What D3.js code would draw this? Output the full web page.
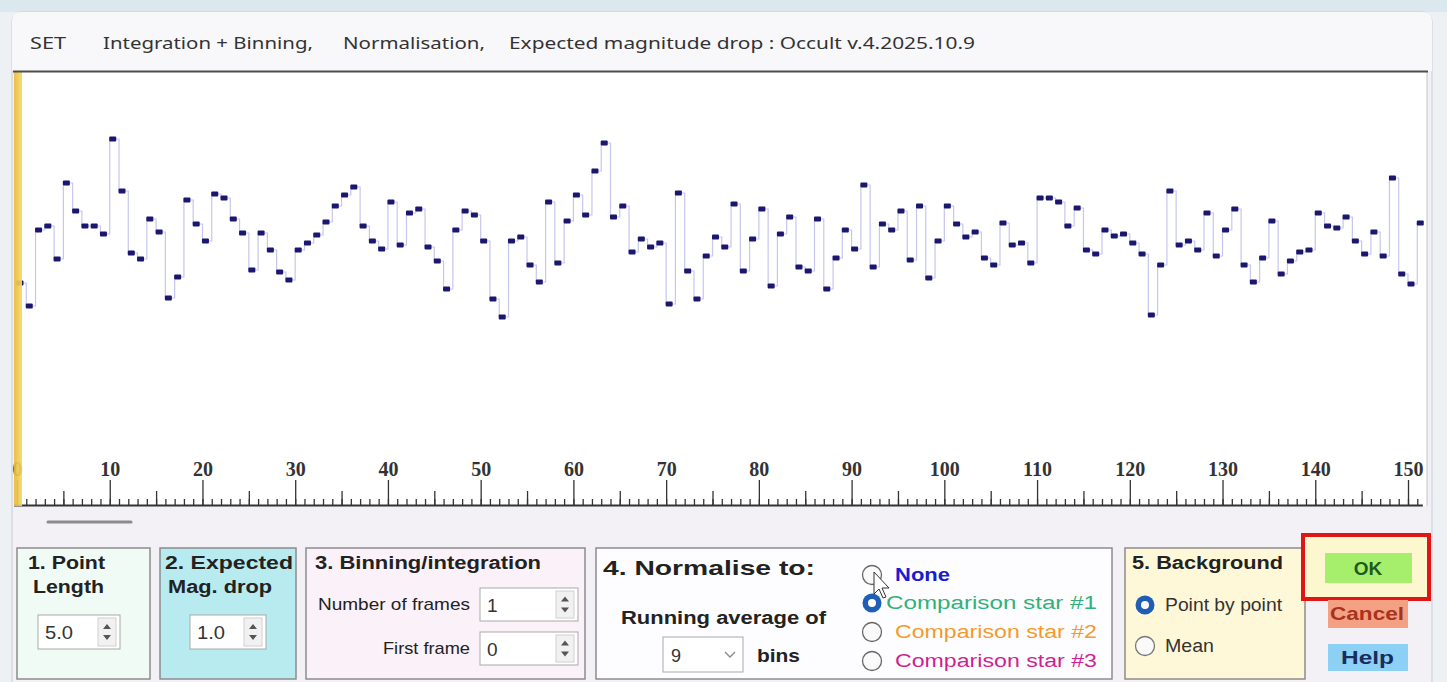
<!DOCTYPE html>
<html>
<head>
<meta charset="utf-8">
<script src="https://cdn.jsdelivr.net/npm/d3@7"></script>
<style>
  body { margin: 0; background: #eef1f4; }
  svg { display: block; font-family: "Noto Sans", "Open Sans", sans-serif; }
</style>
</head>
<body>
<svg width="1447" height="682"></svg>
<script>
// Light curve: one value per frame (relative intensity)
const flux = [
  47, 24, 100, 104, 71, 147, 119, 104, 104, 96,
  191, 139, 77, 71, 111, 98, 32, 53, 130, 106,
  89, 136, 132, 111, 97, 60, 97, 80, 58, 50,
  80, 87, 95, 108, 124, 135, 143, 104, 89, 81,
  128, 85, 117, 121, 83, 69, 41, 100, 119, 115,
  89, 31, 13, 89, 93, 65, 48, 128, 67, 109,
  135, 115, 159, 187, 113, 124, 78, 91, 83, 87,
  26, 137, 59, 31, 74, 93, 83, 126, 59, 91,
  121, 44, 96, 113, 63, 59, 111, 41, 72, 100,
  81, 145, 63, 106, 100, 119, 70, 124, 52, 89,
  124, 106, 93, 98, 72, 65, 107, 85, 87, 67,
  132, 132, 128, 104, 122, 80, 76, 100, 94, 96,
  87, 76, 15, 65, 139, 85, 89, 80, 117, 74,
  100, 121, 65, 48, 72, 109, 56, 69, 78, 80,
  117, 104, 102, 113, 89, 76, 98, 74, 152, 56,
  46, 107
];
const tickLabels = [0, 10, 20, 30, 40, 50, 60, 70, 80, 90, 100, 110, 120, 130, 140, 150];
const midTicks = [5, 15, 25, 35, 45, 55, 65, 75, 85, 95, 105, 115, 125, 135, 145];
const minorTicks = d3.range(0, 152);

const titleParts = ["SET", "Integration + Binning,", "Normalisation,", "Expected magnitude drop : Occult v.4.2025.10.9"];
const normaliseOptions = ["None", "Comparison star #1", "Comparison star #2", "Comparison star #3"];
const normaliseColors = ["#1c1ccf", "#2fb27a", "#f39a2c", "#cf1f93"];
const backgroundOptions = ["Point by point", "Mean"];

const svg = d3.select("svg");

// window frame
svg.append("rect").attr("x", 0).attr("y", 0).attr("width", 1447).attr("height", 12).attr("fill", "#dbe8ee");
svg.append("rect").attr("x", 12).attr("y", 12).attr("width", 1420).attr("height", 690)
  .attr("rx", 9).attr("fill", "#f3f0f6").attr("stroke", "#c9cdd5");
svg.append("path").attr("d", "M12,71 V21 Q12,12 21,12 H1423 Q1432,12 1432,21 V71 Z").attr("fill", "#f8f8fb");

// title (the capture is stretched sideways, so widths are fitted)
const titleX = [30, 103, 343, 509];
const titleW = [36, 210, 142, 466];
svg.selectAll("text.title").data(titleParts).join("text")
  .attr("class", "title")
  .attr("x", (d, i) => titleX[i]).attr("y", 49)
  .attr("font-size", 17).attr("fill", "#333")
  .attr("textLength", (d, i) => titleW[i]).attr("lengthAdjust", "spacingAndGlyphs")
  .text(d => d);

// plot area
const x = d3.scaleLinear().domain([0, 150]).range([17, 1408]);
const y = d3.scaleLinear().domain([0, 257]).range([330, 73]);

svg.append("rect").attr("x", 14).attr("y", 72).attr("width", 1413).attr("height", 434).attr("fill", "#fff");
svg.append("line").attr("x1", 1427).attr("x2", 1427).attr("y1", 72).attr("y2", 506).attr("stroke", "#c4c4c4");

const grad = svg.append("defs").append("linearGradient").attr("id", "yel").attr("x1", 0).attr("x2", 1);
grad.append("stop").attr("offset", 0).attr("stop-color", "#e6bb3a");
grad.append("stop").attr("offset", 1).attr("stop-color", "#f7d86a");

// step connector and point dashes
const pts = flux.map((v, i) => ({ i, v }));
svg.append("path").datum(pts)
  .attr("fill", "none").attr("stroke", "#c6c6ee").attr("stroke-width", 1.2)
  .attr("d", d3.line().x(d => x(d.i)).y(d => y(d.v)).curve(d3.curveStepAfter));

svg.selectAll("rect.pt").data(pts).join("rect")
  .attr("class", "pt")
  .attr("x", d => x(d.i) - 0.5).attr("y", d => y(d.v) - 2.5)
  .attr("width", 7).attr("height", 5).attr("rx", 1)
  .attr("fill", "#1b176e");

// axis: ticks upward from the baseline
const axisY = 505;
const axisG = svg.append("g").attr("transform", `translate(0,${axisY})`);
axisG.append("g").call(d3.axisTop(x).tickValues(minorTicks).tickSize(6).tickFormat(""));
axisG.append("g").call(d3.axisTop(x).tickValues(midTicks).tickSize(14).tickFormat(""));
axisG.append("g").call(d3.axisTop(x).tickValues(tickLabels).tickSize(25).tickPadding(4).tickFormat(d3.format("d")));
axisG.selectAll(".domain").remove();
axisG.selectAll("line").attr("stroke", "#333").attr("stroke-width", 1.3);
axisG.selectAll("text")
  .attr("font-family", "'Liberation Serif', 'DejaVu Serif', serif")
  .attr("font-weight", "bold").attr("font-size", 20).attr("fill", "#333");
axisG.append("line").attr("x1", 14).attr("x2", x(151.6)).attr("y1", 0.5).attr("y2", 0.5)
  .attr("stroke", "#333").attr("stroke-width", 2);

// yellow left strip drawn over the "0" label, as in the capture
svg.append("rect").attr("x", 14).attr("y", 72).attr("width", 8).attr("height", 434).attr("fill", "url(#yel)").attr("opacity", 0.92);
svg.append("line").attr("x1", 13).attr("x2", 1428).attr("y1", 71.5).attr("y2", 71.5)
  .attr("stroke", "#4d4d4d").attr("stroke-width", 2);

// scrollbar thumb
svg.append("line").attr("x1", 48).attr("x2", 131).attr("y1", 522).attr("y2", 522)
  .attr("stroke", "#8b8b8b").attr("stroke-width", 3).attr("stroke-linecap", "round");

// control panels
const panels = [
  { x: 17, w: 133, fill: "#f0fbf6" },
  { x: 160, w: 136, fill: "#b7ebef" },
  { x: 306, w: 279, fill: "#fbf1f8" },
  { x: 596, w: 516, fill: "#fdfdff" },
  { x: 1125, w: 180, fill: "#fff8d8" }
];
svg.selectAll("rect.panel").data(panels).join("rect")
  .attr("class", "panel")
  .attr("x", d => d.x).attr("y", 548).attr("width", d => d.w).attr("height", 131)
  .attr("fill", d => d.fill).attr("stroke", "#8c8c8c").attr("stroke-width", 1.5);

function label(tx, ty, t, opts = {}) {
  const el = svg.append("text").attr("x", tx).attr("y", ty)
    .attr("font-family", "'Liberation Sans', Arial, sans-serif")
    .attr("font-weight", opts.bold ? "bold" : "normal")
    .attr("font-size", opts.size || 18)
    .attr("fill", opts.color || "#222")
    .attr("text-anchor", opts.anchor || "start")
    .text(t);
  if (opts.w) el.attr("textLength", opts.w).attr("lengthAdjust", "spacingAndGlyphs");
  return el;
}

function spinBox(bx, by, bw, bh, val, vw) {
  svg.append("rect").attr("x", bx).attr("y", by).attr("width", bw).attr("height", bh)
    .attr("fill", "#fff").attr("stroke", "#a9a9a9");
  svg.append("rect").attr("x", bx + bw - 22).attr("y", by + 3).attr("width", 18).attr("height", bh - 6)
    .attr("fill", "#f1f1f1").attr("stroke", "#d0d0d0");
  const cx = bx + bw - 13, cy = by + bh / 2;
  svg.append("path").attr("d", `M${cx - 4},${cy - 3} L${cx + 4},${cy - 3} L${cx},${cy - 8} Z`).attr("fill", "#555");
  svg.append("path").attr("d", `M${cx - 4},${cy + 3} L${cx + 4},${cy + 3} L${cx},${cy + 8} Z`).attr("fill", "#555");
  label(bx + 7, cy + 7, val, { size: 19, color: "#333", w: vw });
}

// 1. Point length
label(28, 569, "1. Point", { bold: true, w: 77 });
label(33, 593, "Length", { bold: true, w: 71 });
spinBox(38, 615, 82, 34, "5.0", 28);

// 2. Expected mag drop
label(165, 569, "2. Expected", { bold: true, w: 128 });
label(168, 593, "Mag. drop", { bold: true, w: 104 });
spinBox(190, 615, 76, 34, "1.0", 28);

// 3. Binning
label(315, 569, "3. Binning/integration", { bold: true, w: 226 });
label(318, 610, "Number of frames", { size: 17, w: 152 });
spinBox(480, 588, 98, 33, "1");
label(383, 654, "First frame", { size: 17, w: 87 });
spinBox(480, 632, 98, 33, "0");

// 4. Normalise
label(603, 575, "4. Normalise to:", { bold: true, size: 21, w: 212 });
label(621, 624, "Running average of", { bold: true, w: 205 });
svg.append("rect").attr("x", 663).attr("y", 637).attr("width", 80).attr("height", 35)
  .attr("fill", "#fff").attr("stroke", "#aaa");
label(671, 662, "9", { color: "#333" });
svg.append("path").attr("d", "M725,652 L730,657 L735,652").attr("fill", "none").attr("stroke", "#888").attr("stroke-width", 1.3);
label(757, 662, "bins", { bold: true, w: 43 });

const radioY = [575, 603, 632, 661];
const radioLabelX = [895, 886, 895, 895];
const radioLabelW = [55, 211, 202, 202];
normaliseOptions.forEach((t, i) => {
  const ry = radioY[i];
  if (i === 1) {
    svg.append("circle").attr("cx", 872).attr("cy", ry).attr("r", 9.5).attr("fill", "#1f5eb5");
    svg.append("circle").attr("cx", 872).attr("cy", ry).attr("r", 4).attr("fill", "#fff");
  } else {
    svg.append("circle").attr("cx", 872).attr("cy", ry).attr("r", 9.5).attr("fill", "#fafafa").attr("stroke", "#666").attr("stroke-width", 1.3);
  }
  label(radioLabelX[i], ry + 6, t, { color: normaliseColors[i], bold: i === 0, w: radioLabelW[i] });
});
// mouse cursor over "None"
svg.append("path")
  .attr("d", "M874,572 L874,594 L879,589 L883,598 L886,597 L882,588 L889,588 Z")
  .attr("fill", "#fff").attr("stroke", "#333").attr("stroke-width", 1);

// 5. Background
label(1132, 569, "5. Background", { bold: true, w: 151 });
backgroundOptions.forEach((t, i) => {
  const ry = [605, 646][i];
  if (i === 0) {
    svg.append("circle").attr("cx", 1145).attr("cy", ry).attr("r", 9.5).attr("fill", "#1f5eb5");
    svg.append("circle").attr("cx", 1145).attr("cy", ry).attr("r", 4).attr("fill", "#fff");
  } else {
    svg.append("circle").attr("cx", 1145).attr("cy", ry).attr("r", 9.5).attr("fill", "#fafafa").attr("stroke", "#777").attr("stroke-width", 1.3);
  }
  label(1165, ry + 6, t, { color: "#333", w: [117, 49][i] });
});

// buttons
svg.append("rect").attr("x", 1303).attr("y", 535).attr("width", 126).attr("height", 64)
  .attr("fill", "#fdf7cf").attr("stroke", "#e01515").attr("stroke-width", 4);
svg.append("rect").attr("x", 1325).attr("y", 553).attr("width", 87).attr("height", 30).attr("fill", "#a6ef6c");
label(1368, 575, "OK", { bold: true, anchor: "middle", size: 19, color: "#1e5a1e" });
svg.append("rect").attr("x", 1328).attr("y", 600).attr("width", 80).attr("height", 28).attr("fill", "#f3a182");
label(1330, 620, "Cancel", { bold: true, size: 19, color: "#a8321f", w: 74 });
svg.append("rect").attr("x", 1328).attr("y", 644).attr("width", 80).attr("height", 27).attr("fill", "#8dd0f6");
label(1341, 664, "Help", { bold: true, size: 19, color: "#1a2c5c", w: 53 });
</script>
</body>
</html>
